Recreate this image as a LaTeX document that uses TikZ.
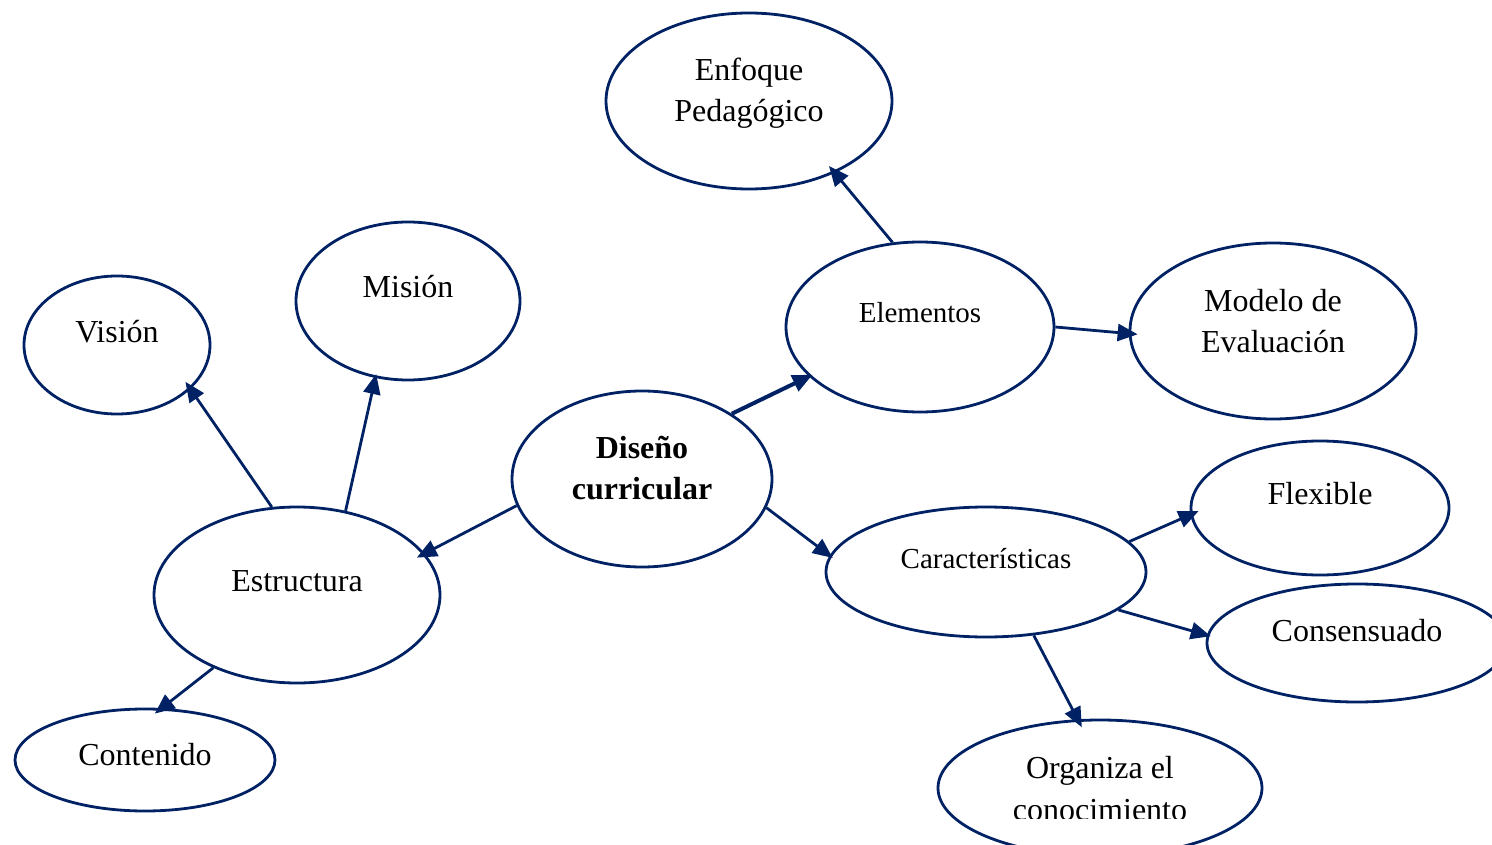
\documentclass[tikz,border=0pt]{standalone}
\usepackage{fontspec}
\setmainfont{Liberation Serif}
\usetikzlibrary{arrows.meta,shapes.geometric}
\definecolor{navy}{RGB}{0,34,100}
\tikzset{
  ell/.style={ellipse,draw=navy,line width=2.8pt,inner sep=0pt,fill=white},
  txt/.style={anchor=base,inner sep=0pt,font=\fontsize{32}{41}\selectfont},
  stxt/.style={anchor=base,inner sep=0pt,font=\fontsize{29}{36}\selectfont},
  btxt/.style={anchor=base,inner sep=0pt,font=\fontsize{32}{41}\selectfont\bfseries},
  arr/.style={draw=navy,line width=2.8pt,shorten >=-9pt,-{Triangle[length=20pt,width=17pt]}},
  thickarr/.style={draw=navy,line width=4pt,shorten >=-4pt,-{Triangle[length=20pt,width=17pt]}}
}
\begin{document}
\begin{tikzpicture}[x=1pt,y=-1pt]
\useasboundingbox (0,0) rectangle (1492,845);
\clip (0,0) rectangle (1492,845);
% ellipses
\node[ell,minimum width=286pt,minimum height=176pt] (enf) at (749,101) {};
\node[ell,minimum width=268pt,minimum height=170pt] (elem) at (920,327) {};
\node[ell,minimum width=286pt,minimum height=176pt] (mod) at (1273,331) {};
\node[ell,minimum width=224pt,minimum height=158pt] (mis) at (408,301) {};
\node[ell,minimum width=186pt,minimum height=138pt] (vis) at (117,345) {};
\node[ell,minimum width=260pt,minimum height=176pt] (dis) at (642,479) {};
\node[ell,minimum width=286pt,minimum height=176pt] (est) at (297,595) {};
\node[ell,minimum width=320pt,minimum height=130pt] (car) at (986,572) {};
\node[ell,minimum width=258pt,minimum height=134pt] (flex) at (1320,508) {};
\node[ell,minimum width=300pt,minimum height=118pt] (cons) at (1357,643) {};
\node[ell,minimum width=260pt,minimum height=102pt] (cont) at (145,760) {};
\node[ell,minimum width=324pt,minimum height=136pt] (org) at (1100,788) {};
% texts
\node[txt] (tenf1) at (749,81) {Enfoque};
\node[txt] (tenf2) at (749,122) {Pedagógico};
\node[stxt] (telem) at (920,322) {Elementos};
\node[txt] (tmod1) at (1273,311) {Modelo de};
\node[txt] (tmod2) at (1273,352) {Evaluación};
\node[txt] (tmis) at (408,298) {Misión};
\node[txt] (tvis) at (117,342) {Visión};
\node[btxt] (tdis1) at (642,458) {Diseño};
\node[btxt] (tdis2) at (642,499) {curricular};
\node[txt] (test) at (297,591) {Estructura};
\node[stxt] (tcar) at (986,568) {Características};
\node[txt] (tflex) at (1320,504) {Flexible};
\node[txt] (tcons) at (1357,641) {Consensuado};
\node[txt] (tcont) at (145,765) {Contenido};
\node[txt] (torg1) at (1100,778) {Organiza el};
\begin{scope}
\clip (900,700) rectangle (1300,818);
\node[txt] (torg2) at (1100,820) {conocimiento};
\end{scope}
% connectors
\draw[arr] (elem.108) -- (enf.-40);
\draw[arr] (elem.0) -- (mod.181);
\draw[thickarr] (dis.36) -- (elem.204);
\draw[arr] (dis.192) -- (est.18);
\draw[arr,shorten >=-4pt] (dis.-13) -- (car.174);
\draw[arr] (est.106) -- (vis.-31);
\draw[arr,shorten >=-4pt] (est.60) -- (mis.247);
\draw[arr] (est.221) -- (cont.72);
\draw[arr] (car.12) -- (flex.183);
\draw[arr,shorten >=-4pt] (car.-16) -- (cons.177);
\draw[arr] (car.-53) -- (org.108);
\end{tikzpicture}
\end{document}
